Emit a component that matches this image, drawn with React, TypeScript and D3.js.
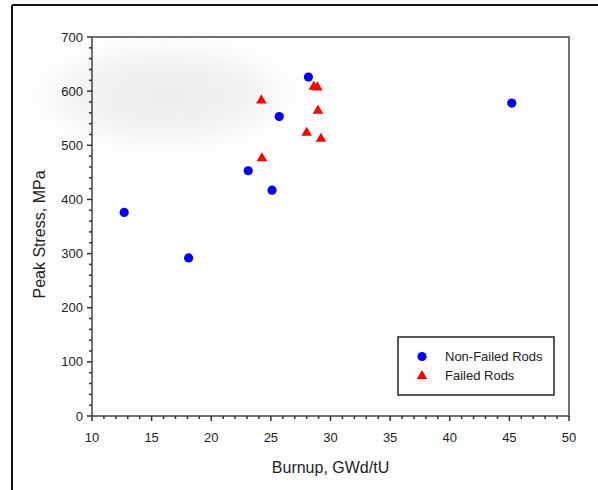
import React, { useRef, useEffect } from "react";
import * as d3 from "d3";

// burnup (GWd/tU) and peak stress (MPa)
const nonFailedBurnup = [12.7, 18.1, 23.1, 25.1, 25.7, 28.15, 45.2];
const nonFailedStress = [376, 292, 453, 417, 553, 626, 578];
const failedBurnup = [24.2, 24.25, 28.6, 28.9, 28.95, 28.0, 29.2];
const failedStress = [583, 476, 608, 607, 564, 523, 512];

const xTicks = [10, 15, 20, 25, 30, 35, 40, 45, 50];
const yTicks = [0, 100, 200, 300, 400, 500, 600, 700];
const legendItems = ["Non-Failed Rods", "Failed Rods"];

const App = () => {
  const svgRef = useRef<SVGSVGElement>(null);

  useEffect(() => {
    const width = 598;
    const height = 490;
    const left = 92, right = 569, top = 37, bottom = 416;

    const svg = d3.select(svgRef.current);
    svg.selectAll("*").remove();
    svg.attr("width", width).attr("height", height);

    const x = d3.scaleLinear().domain([10, 50]).range([left, right]);
    const y = d3.scaleLinear().domain([0, 700]).range([bottom, top]);

    // soft grey glow behind the top-left of the plot
    const defs = svg.append("defs");
    const grad = defs.append("radialGradient").attr("id", "glow");
    grad.append("stop").attr("offset", "0%").attr("stop-color", "#ededed");
    grad.append("stop").attr("offset", "60%").attr("stop-color", "#f2f2f2");
    grad.append("stop").attr("offset", "100%").attr("stop-color", "#ffffff").attr("stop-opacity", 0);
    defs.append("filter").attr("id", "soft")
      .attr("x", "-30%").attr("y", "-30%").attr("width", "160%").attr("height", "160%")
      .append("feGaussianBlur").attr("stdDeviation", 12);
    svg.append("ellipse")
      .attr("cx", 165).attr("cy", 95).attr("rx", 155).attr("ry", 62)
      .attr("fill", "url(#glow)").attr("filter", "url(#soft)");

    // outer frame (top and left edges)
    svg.append("line").attr("x1", 12).attr("x2", 598).attr("y1", 5).attr("y2", 5)
      .attr("stroke", "#111").attr("stroke-width", 2);
    svg.append("line").attr("x1", 12).attr("x2", 12).attr("y1", 5).attr("y2", 490)
      .attr("stroke", "#111").attr("stroke-width", 2);

    // plot box
    svg.append("rect")
      .attr("x", left).attr("y", top)
      .attr("width", right - left).attr("height", bottom - top)
      .attr("fill", "none").attr("stroke", "#444").attr("stroke-width", 1.5);

    const font = "Arial, 'Liberation Sans', sans-serif";

    // x axis ticks
    const gx = svg.append("g");
    gx.selectAll("line.minor")
      .data(d3.range(10, 50.01, 1))
      .enter().append("line")
      .attr("x1", d => x(d)).attr("x2", d => x(d))
      .attr("y1", bottom).attr("y2", d => bottom + (d % 5 === 0 ? 5 : 3))
      .attr("stroke", "#333").attr("stroke-width", 1.5);
    gx.selectAll("text")
      .data(xTicks)
      .enter().append("text")
      .attr("x", d => x(d)).attr("y", bottom + 26)
      .attr("text-anchor", "middle")
      .style("font-family", font).style("font-size", "13px").attr("fill", "#222")
      .text(d => d);

    // y axis ticks
    const gy = svg.append("g");
    gy.selectAll("line")
      .data(d3.range(0, 700.01, 20))
      .enter().append("line")
      .attr("x1", left).attr("x2", d => left - (d % 100 === 0 ? 5 : 3))
      .attr("y1", d => y(d)).attr("y2", d => y(d))
      .attr("stroke", "#333").attr("stroke-width", 1.5);
    gy.selectAll("text")
      .data(yTicks)
      .enter().append("text")
      .attr("x", left - 9).attr("y", d => y(d) + 4.5)
      .attr("text-anchor", "end")
      .style("font-family", font).style("font-size", "13px").attr("fill", "#222")
      .text(d => d);

    // axis titles
    svg.append("text")
      .attr("x", (left + right) / 2).attr("y", 473)
      .attr("text-anchor", "middle")
      .style("font-family", font).style("font-size", "16px").attr("fill", "#222")
      .text("Burnup, GWd/tU");
    svg.append("text")
      .attr("transform", `translate(45, ${(top + bottom) / 2 + 8}) rotate(-90)`)
      .attr("text-anchor", "middle")
      .style("font-family", font).style("font-size", "16px").attr("fill", "#222")
      .text("Peak Stress, MPa");

    const tri = d3.symbol().type(d3.symbolTriangle).size(48);

    // data points
    svg.append("g").selectAll("circle")
      .data(d3.zip(nonFailedBurnup, nonFailedStress))
      .enter().append("circle")
      .attr("cx", d => x(d[0])).attr("cy", d => y(d[1]))
      .attr("r", 4.6).attr("fill", "#0000ff");
    svg.append("g").selectAll("path")
      .data(d3.zip(failedBurnup, failedStress))
      .enter().append("path")
      .attr("d", tri)
      .attr("transform", d => `translate(${x(d[0])}, ${y(d[1])})`)
      .attr("fill", "#ff0000");

    // legend
    const lg = svg.append("g");
    lg.append("rect")
      .attr("x", 398).attr("y", 337).attr("width", 156).attr("height", 58)
      .attr("fill", "white").attr("stroke", "#222").attr("stroke-width", 1.5);
    lg.append("circle").attr("cx", 422).attr("cy", 356.5).attr("r", 4.6).attr("fill", "#0000ff");
    lg.append("path").attr("d", tri).attr("transform", "translate(422, 376)").attr("fill", "#ff0000");
    lg.selectAll("text")
      .data(legendItems)
      .enter().append("text")
      .attr("x", 445).attr("y", (d, i) => 361 + i * 19)
      .style("font-family", font).style("font-size", "13px").attr("fill", "#222")
      .text(d => d);
  }, []);

  return <svg ref={svgRef} style={{ position: "absolute", left: 0, top: 0 }}></svg>;
};

export default App;
